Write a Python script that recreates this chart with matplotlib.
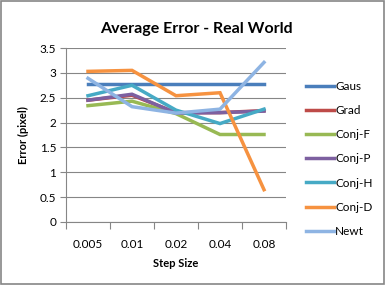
import matplotlib
matplotlib.use("Agg")
import matplotlib.pyplot as plt
import matplotlib.patches as patches
import numpy as np

# chart data
step_sizes = ["0.005", "0.01", "0.02", "0.04", "0.08"]
series_names = ["Gaus", "Grad", "Conj-F", "Conj-P", "Conj-H", "Conj-D", "Newt"]
gaus = [2.77, 2.77, 2.77, 2.77, 2.77]
grad = [2.45, 2.55, 2.20, 2.20, 2.24]
conj_f = [2.34, 2.43, 2.18, 1.76, 1.76]
conj_p = [2.45, 2.57, 2.19, 2.20, 2.23]
conj_h = [2.54, 2.75, 2.25, 1.98, 2.27]
conj_d = [3.03, 3.05, 2.54, 2.60, 0.65]
newt = [2.89, 2.32, 2.19, 2.27, 3.21]
series_values = [gaus, grad, conj_f, conj_p, conj_h, conj_d, newt]
series_colors = ["#4A7EBB", "#BE4B48", "#98B954", "#7D60A0", "#46AAC5", "#F69240", "#8EB4E3"]

plt.rcParams['font.family'] = ['Lato', 'DejaVu Sans']

fig = plt.figure(figsize=(3.86, 2.86), dpi=100)
ax = fig.add_axes([66 / 386, 1 - 222 / 286, 220 / 386, 174 / 286])

x = np.arange(len(step_sizes))
lines = []
for name, vals, col in zip(series_names, series_values, series_colors):
    ln, = ax.plot(x, vals, color=col, linewidth=2.5, label=name,
                  solid_joinstyle='miter')
    lines.append(ln)

ax.set_xlim(-0.5, len(step_sizes) - 0.5)
ax.set_ylim(0, 3.5)
ax.set_yticks(np.arange(0, 3.51, 0.5))
ax.set_yticklabels(["0", "0.5", "1", "1.5", "2", "2.5", "3", "3.5"])
ax.yaxis.grid(True, color="#868686", linewidth=0.8)
ax.set_axisbelow(True)

# category ticks sit between the labels
ax.set_xticks(np.arange(-0.5, len(step_sizes), 1.0))
ax.set_xticklabels([])
ax.set_xticks(x, minor=True)
ax.set_xticklabels(step_sizes, minor=True)
ax.tick_params(axis='x', which='minor', length=0, pad=12, labelsize=8.5)
ax.tick_params(axis='x', which='major', length=5, color="#868686", direction='out')
ax.tick_params(axis='y', length=4, color="#868686", labelsize=8.5, pad=3)

for side in ['top', 'right']:
    ax.spines[side].set_visible(False)
for side in ['left', 'bottom']:
    ax.spines[side].set_color("#868686")

ax.set_xlabel("Step Size", fontsize=8, fontweight='bold', labelpad=6)
ax.set_ylabel("Error (pixel)", fontsize=8, fontweight='bold', labelpad=8)
fig.text(196 / 386, 1 - 29 / 286, "Average Error - Real World", fontsize=11.5,
         fontweight='bold', ha='center', va='center')

leg = fig.legend(handles=lines, loc='upper left', bbox_to_anchor=(301 / 386, 1 - 76 / 286),
                 frameon=False, fontsize=8.5, handlelength=2.4, handletextpad=0.1,
                 labelspacing=1.12, borderaxespad=0)

# outer chart border
fig.patches.append(patches.Rectangle((0.002, 0.006), 0.994, 0.99, transform=fig.transFigure,
                                     fill=False, edgecolor="#868686", linewidth=1.2))

fig.savefig("out.png", dpi=100)
